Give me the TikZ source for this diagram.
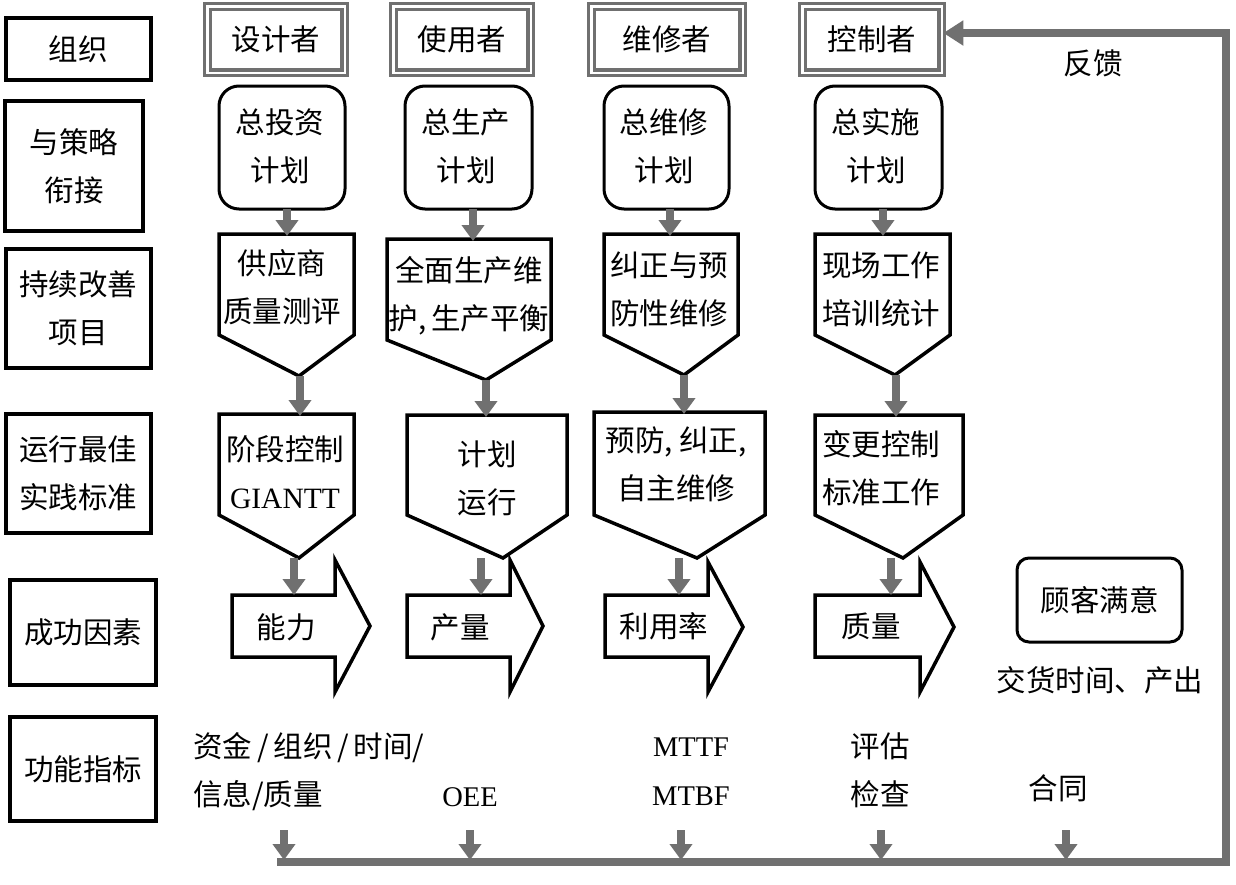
\documentclass[tikz,border=0pt]{standalone}
\usepackage{fontspec}
\setmainfont{Liberation Serif}
\newfontfamily\cjk{Noto Sans CJK SC}
\usetikzlibrary{arrows.meta}
\definecolor{fg}{RGB}{112,112,112}
\newcommand\cjkf{\cjk\fontsize{29.5pt}{48pt}\selectfont}
\newcommand\latf{\rmfamily\fontsize{28.5pt}{49pt}\selectfont}
\tikzset{
  lbox/.style={draw, line width=4pt, font=\cjkf, align=center, inner sep=0pt},
  dbox/.style={draw=fg, double=white, double distance=2.5pt, line width=3.2pt, font=\cjkf, inner sep=0pt},
  rbox/.style={draw, line width=3pt, rounded corners=20pt, inner sep=0pt},
  shp/.style={draw, line width=3.5pt, line join=miter, fill=white},
  txt/.style={font=\cjkf, align=center, inner sep=0pt},
  garrow/.style={draw=fg, line width=8pt, -{Triangle[length=16pt,width=22pt]}},
  fbline/.style={draw=fg, line width=8pt, line join=miter, -{Triangle[length=20pt,width=24pt]}},
}
\begin{document}
\begin{tikzpicture}[x=1pt,y=-1pt]
\useasboundingbox[fill=white] (0,0) rectangle (1236,884);

% left column
\node[lbox, minimum width=145, minimum height=62] (l1) at (78,49) {组织};
\node[lbox, minimum width=138, minimum height=130] (l2) at (74,166) {与策略\\衔接};
\node[lbox, minimum width=145, minimum height=119] (l3) at (78,308) {持续改善\\项目};
\node[lbox, minimum width=145, minimum height=119] (l4) at (78,473) {运行最佳\\实践标准};
\node[lbox, minimum width=146, minimum height=105] (l5) at (83,632) {成功因素};
\node[lbox, minimum width=146, minimum height=104] (l6) at (83,769) {功能指标};

% top double boxes
\node[dbox, minimum width=137.5, minimum height=66.5] (des) at (276,39.5) {设计者};
\node[dbox, minimum width=137.5, minimum height=66.5] (use) at (462,39.5) {使用者};
\node[dbox, minimum width=151.5, minimum height=66.5] (mai) at (667,39.5) {维修者};
\node[dbox, minimum width=139.5, minimum height=66.5] (ctl) at (872,39.5) {控制者};

% plan boxes
\node[rbox, minimum width=126, minimum height=123] (pl1) at (282,147.5) {};
\node[rbox, minimum width=127, minimum height=123] (pl2) at (468.5,147.5) {};
\node[rbox, minimum width=125, minimum height=123] (pl3) at (666.5,147.5) {};
\node[rbox, minimum width=127, minimum height=123] (pl4) at (878.5,147.5) {};
\node[txt] (tp1) at (280,146) {总投资\\计划};
\node[txt] (tp2) at (466,146) {总生产\\计划};
\node[txt] (tp3) at (664,146) {总维修\\计划};
\node[txt] (tp4) at (876,146) {总实施\\计划};

% row 3 pentagons
\draw[shp] (219,234) -- (354,234) -- (354,335) -- (299,376) -- (219,335) -- cycle;
\draw[shp] (387,239) -- (551,239) -- (551,340) -- (486,380) -- (387,340) -- cycle;
\draw[shp] (604,234) -- (738,234) -- (738,335) -- (684,375) -- (604,335) -- cycle;
\draw[shp] (815,234) -- (950,234) -- (950,335) -- (895,375) -- (815,335) -- cycle;
\node[txt] (t31) at (282,287) {供应商\\质量测评};
\node[txt] (t32) at (469,296) {全面生产维\\护,\,生产平衡};
\node[txt] (t33) at (669,289) {纠正与预\\防性维修};
\node[txt] (t34) at (881,289) {现场工作\\培训统计};

% row 4 pentagons
\draw[shp] (219,414) -- (354,414) -- (354,515) -- (299,558) -- (219,515) -- cycle;
\draw[shp] (407,415) -- (567,415) -- (567,515) -- (503,558) -- (407,515) -- cycle;
\draw[shp] (594,412) -- (765,412) -- (765,515) -- (697,558) -- (594,515) -- cycle;
\draw[shp] (815,415) -- (963,415) -- (963,515) -- (903,558) -- (815,515) -- cycle;
\node[txt] (t41) at (285,472) {阶段控制\\{\rmfamily GIANTT}};
\node[txt] (t42) at (487,478) {计划\\运行};
\node[txt] (t43) at (676,464) {预防, 纠正,\\自主维修};
\node[txt] (t44) at (881,468) {变更控制\\标准工作};

% row 5 block arrows
\draw[shp] (232,595) -- (335,595) -- (335,560) -- (370,626) -- (335,692) -- (335,657) -- (232,657) -- cycle;
\draw[shp] (407,595) -- (510,595) -- (510,560) -- (543,626) -- (510,692) -- (510,657) -- (407,657) -- cycle;
\draw[shp] (605,595) -- (708,595) -- (708,562) -- (743,627) -- (708,692) -- (708,657) -- (605,657) -- cycle;
\draw[shp] (815,595) -- (920,595) -- (920,562) -- (954,627) -- (920,692) -- (920,657) -- (815,657) -- cycle;
\node[txt] (t51) at (286,627) {能力};
\node[txt] (t52) at (460,627) {产量};
\node[txt] (t53) at (664,626) {利用率};
\node[txt] (t54) at (871,626) {质量};

% customer satisfaction
\node[rbox, rounded corners=12pt, minimum width=165, minimum height=84, font=\cjkf] (cs) at (1099.5,600) {顾客满意};
\node[txt] (dl) at (1100,680) {交货时间、产出};

% bottom labels
\node[txt, anchor=west, align=left] (f1) at (193,772) {资金\,/\,组织\,/\,时间/\\信息/质量};
\node[txt, font=\latf] (f2) at (470,797) {OEE};
\node[txt, font=\latf] (f3) at (691,772) {MTTF\\MTBF};
\node[txt] (f4) at (880,770) {评估\\检查};
\node[txt] (f5) at (1058,788) {合同};
\node[txt] (fb) at (1093,63) {反馈};

% gray arrows
\foreach \n/\x/\ya/\yb in {
  a1/287/209/236, a2/473/209/241, a3/670/209/236, a4/883/209/236,
  b1/300/376/416, b2/486/380/417, b3/684/375/414, b4/896/375/417,
  c1/294/558/595, c2/481/558/595, c3/679/558/595, c4/891/558/595,
  d1/284/830/860, d2/470/830/860, d3/681/830/860, d4/881/830/860, d5/1066/830/860}{
  \coordinate (\n s) at (\x,\ya);
  \coordinate (\n e) at (\x,\yb);
  \draw[garrow] (\n s) -- (\n e);
}

% feedback loop
\coordinate (fb0) at (277,862);
\coordinate (fb1) at (1226,862);
\coordinate (fb2) at (1226,33);
\draw[fbline] (fb0) -- (fb1) -- (fb2) -- (ctl.east |- fb2);
\end{tikzpicture}
\end{document}
